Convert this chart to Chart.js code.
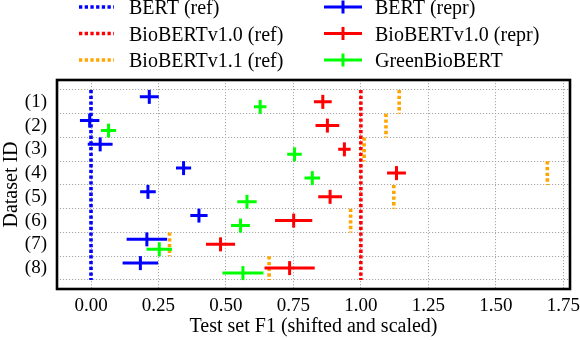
<!DOCTYPE html>
<html>
<head>
<meta charset="utf-8">
<script src="https://cdn.jsdelivr.net/npm/chart.js@4/dist/chart.umd.min.js"></script>
<style>
  html,body{margin:0;padding:0;background:#fff;}
  #wrap{width:580px;height:340px;position:relative;}
</style>
</head>
<body>
<div id="wrap"><canvas id="c" width="580" height="340"></canvas></div>
<script>
/* ===== Data ===== */
const rowIds   = ['(1)','(2)','(3)','(4)','(5)','(6)','(7)','(8)'];
const xTicks   = [0, 0.25, 0.5, 0.75, 1.0, 1.25, 1.5, 1.75];

const bertRef  = [0, 0, 0, 0, 0, 0, 0, 0];
const bio10Ref = [1, 1, 1, 1, 1, 1, 1, 1];
const bio11Ref = [1.142, 1.093, 1.012, 1.691, 1.122, 0.962, 0.291, 0.660];

const bertRepr    = [0.216, -0.005, 0.034, 0.343, 0.211, 0.400, 0.207, 0.183];
const bertReprErr = [0.035, 0.036, 0.046, 0.028, 0.029, 0.032, 0.075, 0.066];
const bio10Repr    = [0.859, 0.876, 0.939, 1.132, 0.886, 0.751, 0.480, 0.736];
const bio10ReprErr = [0.033, 0.044, 0.023, 0.035, 0.044, 0.069, 0.054, 0.093];
const green    = [0.627, 0.065, 0.754, 0.820, 0.578, 0.554, 0.253, 0.563];
const greenErr = [0.023, 0.028, 0.027, 0.029, 0.036, 0.035, 0.047, 0.076];

/* ===== Helpers ===== */
const FONT = '"Liberation Serif", "Times New Roman", serif';
const C = {blue:'#0000ff', red:'#ff0000', orange:'#ffa500', green:'#00ff00', grid:'#a8a8a8'};
const DOT = [3.3, 2.4];

function refSegments(vals){
  const pts=[];
  vals.forEach((v,i)=>{
    if(i>0 && v!==vals[i-1]) pts.push({x:null,y:null});
    pts.push({x:v,y:i+0.5},{x:v,y:i+1.5});
  });
  return pts;
}
function barSegments(vals,errs,off){
  const pts=[];
  vals.forEach((v,i)=>{ pts.push({x:v-errs[i],y:i+1+off},{x:v+errs[i],y:i+1+off},{x:null,y:null}); });
  return pts;
}
function centers(vals,off){ return vals.map((v,i)=>({x:v,y:i+1+off})); }

function refSet(label,vals,color){
  return {label,data:refSegments(vals),showLine:true,pointRadius:0,borderColor:color,borderWidth:3.6,borderDash:DOT,spanGaps:false,order:5};
}
function reprSets(label,vals,errs,off,color){
  return [
    {label,data:barSegments(vals,errs,off),showLine:true,pointRadius:0,borderColor:color,borderWidth:3,spanGaps:false,order:2},
    {label:label+' mid',data:centers(vals,off),showLine:false,pointStyle:'line',rotation:90,pointRadius:7,
     borderColor:color,backgroundColor:color,pointBorderWidth:3,order:1}
  ];
}

/* ===== Legend / frame plugins ===== */
const legendItems = [
  {label:'BERT (ref)',          color:C.blue,   ref:true,  col:0,row:0},
  {label:'BioBERTv1.0 (ref)',   color:C.red,    ref:true,  col:0,row:1},
  {label:'BioBERTv1.1 (ref)',   color:C.orange, ref:true,  col:0,row:2},
  {label:'BERT (repr)',         color:C.blue,   ref:false, col:1,row:0},
  {label:'BioBERTv1.0 (repr)',  color:C.red,    ref:false, col:1,row:1},
  {label:'GreenBioBERT',        color:C.green,  ref:false, col:1,row:2}
];
const legendPlugin = {
  id:'twoColLegend',
  afterDraw(chart){
    const ctx=chart.ctx;
    const colX=[79,324], textX=[129,375], rowY=[7,33.5,60];
    ctx.save();
    legendItems.forEach(it=>{
      const x0=colX[it.col], y=rowY[it.row];
      ctx.strokeStyle=it.color;
      if(it.ref){
        ctx.lineWidth=3.6; ctx.setLineDash(DOT);
        ctx.beginPath(); ctx.moveTo(x0,y); ctx.lineTo(x0+35,y); ctx.stroke();
        ctx.setLineDash([]);
      }else{
        ctx.lineWidth=3;
        ctx.beginPath(); ctx.moveTo(x0,y); ctx.lineTo(x0+38,y); ctx.stroke();
        ctx.beginPath(); ctx.moveTo(x0+19,y-6.5); ctx.lineTo(x0+19,y+6.5); ctx.stroke();
      }
      ctx.fillStyle='#000'; ctx.font='20px '+FONT; ctx.textBaseline='alphabetic'; ctx.textAlign='left';
      ctx.fillText(it.label,textX[it.col],y+7);
    });
    ctx.restore();
  }
};
const framePlugin = {
  id:'frame',
  afterDraw(chart){
    const a=chart.chartArea, ctx=chart.ctx;
    ctx.save(); ctx.strokeStyle='#000'; ctx.lineWidth=2.6;
    ctx.strokeRect(a.left,a.top,a.right-a.left,a.bottom-a.top);
    ctx.restore();
  }
};

/* ===== Chart ===== */
const datasets = [
  ...reprSets('GreenBioBERT',green,greenErr,0.21,C.green),
  ...reprSets('BioBERTv1.0 (repr)',bio10Repr,bio10ReprErr,0,C.red),
  ...reprSets('BERT (repr)',bertRepr,bertReprErr,-0.21,C.blue),
  refSet('BioBERTv1.1 (ref)',bio11Ref,C.orange),
  refSet('BioBERTv1.0 (ref)',bio10Ref,C.red),
  refSet('BERT (ref)',bertRef,C.blue)
];

new Chart(document.getElementById('c').getContext('2d'),{
  type:'scatter',
  data:{datasets},
  options:{
    responsive:false, animation:false, devicePixelRatio:1,
    layout:{padding:{top:80,right:10,left:0,bottom:0}},
    plugins:{legend:{display:false},tooltip:{enabled:false}},
    scales:{
      x:{
        type:'linear', min:-0.126, max:1.775,
        afterBuildTicks:s=>{ s.ticks=xTicks.map(v=>({value:v})); },
        afterFit:s=>{ s.height=51; s.paddingLeft=0; s.paddingRight=0; },
        ticks:{autoSkip:false,maxRotation:0,padding:6,color:'#000',font:{family:FONT,size:19},callback:v=>Number(v).toFixed(2)},
        grid:{color:C.grid,lineWidth:1,drawTicks:false},
        border:{display:false,dash:[1.2,1.8]},
        title:{display:true,text:'Test set F1 (shifted and scaled)',color:'#000',font:{family:FONT,size:20},padding:{top:0,bottom:1}}
      },
      y:{
        type:'linear', min:0.08, max:8.88, reverse:true,
        afterBuildTicks:s=>{ const t=[]; for(let i=0;i<=rowIds.length*2;i++) t.push({value:0.5+i*0.5}); s.ticks=t; },
        afterFit:s=>{ s.width=57; s.paddingTop=0; s.paddingBottom=0; },
        ticks:{autoSkip:false,padding:10,color:'#000',font:{family:FONT,size:19},
          callback:v=>Number.isInteger(v)?rowIds[v-1]:''},
        grid:{drawTicks:false,lineWidth:1,color:c=>Number.isInteger(c.tick.value)?'rgba(0,0,0,0)':C.grid},
        border:{display:false,dash:[1.2,1.8]},
        title:{display:true,text:'Dataset ID',color:'#000',font:{family:FONT,size:20},padding:{top:0,bottom:0}}
      }
    }
  },
  plugins:[legendPlugin,framePlugin]
});
</script>
</body>
</html>
